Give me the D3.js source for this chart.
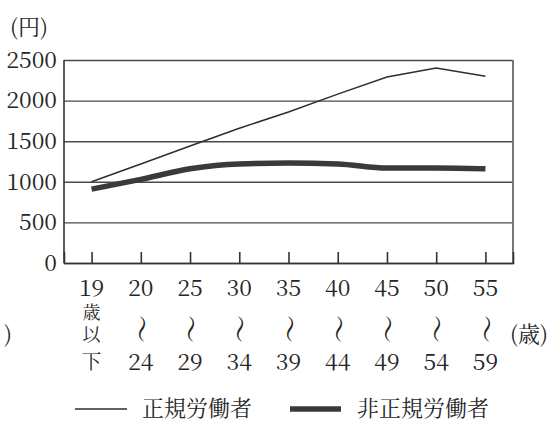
<!DOCTYPE html>
<html>
<head>
<meta charset="utf-8">
<script src="https://cdn.jsdelivr.net/npm/d3@7"></script>
<style>
  body { margin: 0; background: #fff; }
</style>
</head>
<body>
<div id="chart"></div>
<script>
// age groups (x) and hourly wage (円)
let categories = ["19歳以下", "20〜24", "25〜29", "30〜34", "35〜39", "40〜44", "45〜49", "50〜54", "55〜59"];
let ageFrom = ["19", "20", "25", "30", "35", "40", "45", "50", "55"];
let ageTo = ["下", "24", "29", "34", "39", "44", "49", "54", "59"];
let regular = [1000, 1220, 1440, 1660, 1860, 2080, 2290, 2400, 2300];
let nonRegular = [910, 1030, 1160, 1220, 1230, 1220, 1170, 1170, 1160];
let yTicks = [0, 500, 1000, 1500, 2000, 2500];
let seriesNames = ["正規労働者", "非正規労働者"];

let margin = { top: 60, right: 42, bottom: 160, left: 64 };
let width = 555 - margin.left - margin.right;
let height = 423 - margin.top - margin.bottom;

function serif(sel, size) {
    return sel
        .style('font-family', '"Noto Serif CJK JP", "Liberation Serif", serif')
        .style('font-size', size + 'px')
        .style('fill', '#262626');
}

let svg = d3.select('#chart').append('svg')
    .attr('width', 555)
    .attr('height', 423);

let g = svg.append('g')
    .attr('transform', 'translate(' + margin.left + ', ' + margin.top + ')');

let xScale = d3.scalePoint()
    .domain(categories)
    .range([0, width])
    .padding(0.56);

let yScale = d3.scaleLinear()
    .domain([0, 2500])
    .range([height, 0]);

// gridlines + y labels
let yAxis = d3.axisLeft(yScale)
    .tickValues(yTicks)
    .tickSize(-width)
    .tickPadding(7)
    .tickFormat(d3.format('d'));

let yGuide = g.append('g').call(yAxis);
yGuide.select('.domain').remove();
yGuide.selectAll('line')
    .attr('stroke', '#4a4a4a')
    .attr('stroke-width', 1.4);
serif(yGuide.selectAll('text'), 23);

// left axis line and right border
g.append('line')
    .attr('x1', 0).attr('x2', 0)
    .attr('y1', 0).attr('y2', height)
    .attr('stroke', '#333').attr('stroke-width', 1.6);
g.append('line')
    .attr('x1', width).attr('x2', width)
    .attr('y1', 0).attr('y2', height)
    .attr('stroke', '#777').attr('stroke-width', 2);

// bottom axis with short inward ticks
let xAxis = d3.axisBottom(xScale)
    .tickSize(-11)
    .tickFormat('');
let xGuide = g.append('g')
    .attr('transform', 'translate(0, ' + height + ')')
    .call(xAxis);
xGuide.select('.domain')
    .attr('stroke', '#333')
    .attr('stroke-width', 1.6);
xGuide.selectAll('line')
    .attr('stroke', '#333')
    .attr('stroke-width', 1.6);

// x labels (vertical style)
let labels = g.append('g').attr('class', 'xlabels');
categories.forEach(function (c, i) {
    let x = xScale(c);
    serif(labels.append('text'), 23)
        .attr('x', x).attr('y', height + 33)
        .attr('text-anchor', 'middle')
        .text(ageFrom[i]);
    if (i === 0) {
        // 歳以 set vertically as one run
        serif(labels.append('text'), 18)
            .attr('x', x).attr('y', height + 40)
            .style('writing-mode', 'vertical-rl')
            .style('letter-spacing', '4px')
            .text('歳以');
        serif(labels.append('text'), 20)
            .attr('x', x).attr('y', height + 106)
            .attr('text-anchor', 'middle')
            .text(ageTo[i]);
    } else {
        serif(labels.append('text'), 28)
            .attr('transform', 'translate(' + x + ', ' + (height + 66) + ') rotate(90)')
            .attr('text-anchor', 'middle')
            .attr('dy', '0.35em')
            .text('〜');
        serif(labels.append('text'), 23)
            .attr('x', x).attr('y', height + 107)
            .attr('text-anchor', 'middle')
            .text(ageTo[i]);
    }
});

// lines
let line = d3.line()
    .x(function (d, i) { return xScale(categories[i]); })
    .y(function (d) { return yScale(d); });

g.append('path')
    .datum(nonRegular)
    .attr('fill', 'none')
    .attr('stroke', '#3a3a3a')
    .attr('stroke-width', 5.5)
    .attr('d', line.curve(d3.curveMonotoneX));

g.append('path')
    .datum(regular)
    .attr('fill', 'none')
    .attr('stroke', '#2e2e2e')
    .attr('stroke-width', 1.5)
    .attr('d', line.curve(d3.curveLinear));

// unit labels
serif(svg.append('text'), 22)
    .attr('x', 10).attr('y', 35)
    .text('(円)');
serif(svg.append('text'), 22)
    .attr('x', 510).attr('y', 342)
    .text('(歳)');
serif(svg.append('text'), 22)
    .attr('x', 4).attr('y', 342)
    .text(')');

// legend
let legend = svg.append('g');
legend.append('line')
    .attr('x1', 75).attr('x2', 127)
    .attr('y1', 409).attr('y2', 409)
    .attr('stroke', '#2e2e2e').attr('stroke-width', 1.5);
serif(legend.append('text'), 22)
    .attr('x', 142).attr('y', 416)
    .text(seriesNames[0]);
legend.append('line')
    .attr('x1', 290).attr('x2', 341)
    .attr('y1', 409).attr('y2', 409)
    .attr('stroke', '#3a3a3a').attr('stroke-width', 5.5);
serif(legend.append('text'), 22)
    .attr('x', 357).attr('y', 416)
    .text(seriesNames[1]);
</script>
</body>
</html>
